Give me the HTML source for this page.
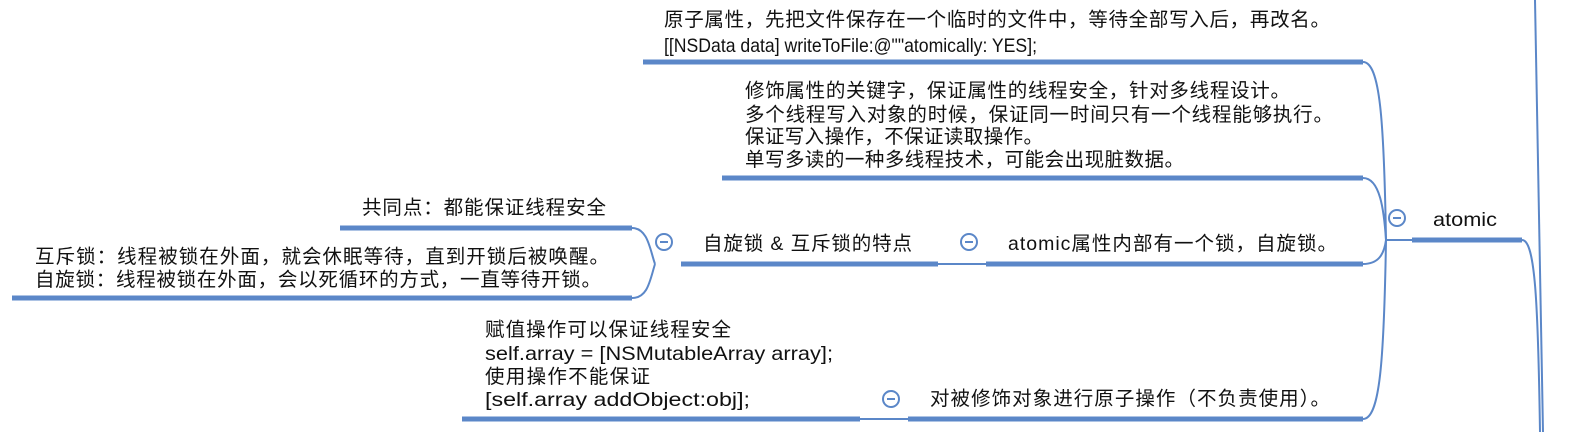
<!DOCTYPE html>
<html><head><meta charset="utf-8"><style>
html,body{margin:0;padding:0;background:#fff;width:1570px;height:432px;overflow:hidden}
svg text{font-family:"Liberation Sans","Noto Sans CJK SC",sans-serif;font-size:19.5px;fill:#111}
</style></head><body>
<svg width="1570" height="432" viewBox="0 0 1570 432" xmlns="http://www.w3.org/2000/svg">
<g stroke="#5b87c8" fill="none">
<g stroke-width="5">
<line x1="643" y1="62" x2="1363" y2="62"/>
<line x1="722" y1="178" x2="1363" y2="178"/>
<line x1="1412" y1="240" x2="1522" y2="240"/>
<line x1="986" y1="264" x2="1363" y2="264"/>
<line x1="908" y1="419" x2="1363" y2="419"/>
<line x1="681" y1="264" x2="938" y2="264"/>
<line x1="340" y1="228" x2="632" y2="228"/>
<line x1="12" y1="298" x2="632" y2="298"/>
<line x1="462" y1="419" x2="860" y2="419"/>
</g>
<g stroke-width="2">
<line x1="1386" y1="240" x2="1412" y2="240"/>
<path d="M1363 62 C1380 62 1384 120 1386 240"/>
<path d="M1363 178 C1380 178 1384 210 1386 240"/>
<path d="M1363 264 C1378 264 1384 255 1386 240"/>
<path d="M1363 419 C1380 419 1384 360 1386 240"/>
<line x1="938" y1="264" x2="986" y2="264"/>
<path d="M632 228 C648 228 650 250 655 264"/>
<path d="M632 298 C648 298 650 280 655 264"/>
<line x1="860" y1="419" x2="908" y2="419"/>
<path d="M1535 0 L1543 432"/>
<path d="M1522 240 C1535 240 1538 300 1540 432"/>
<circle cx="1397" cy="218" r="8"/>
<circle cx="969" cy="242" r="8"/>
<circle cx="664" cy="242" r="8"/>
<circle cx="891" cy="399" r="8"/>
<line x1="1393" y1="218" x2="1401" y2="218"/>
<line x1="965" y1="242" x2="973" y2="242"/>
<line x1="660" y1="242" x2="668" y2="242"/>
<line x1="887" y1="399" x2="895" y2="399"/>
</g>
</g>
<text x="664" y="26" textLength="666" lengthAdjust="spacing">原子属性，先把文件保存在一个临时的文件中，等待全部写入后，再改名。</text>
<text x="664" y="52" textLength="373" lengthAdjust="spacingAndGlyphs">[[NSData data] writeToFile:@""atomically: YES];</text>
<text x="745" y="97" textLength="545" lengthAdjust="spacing">修饰属性的关键字，保证属性的线程安全，针对多线程设计。</text>
<text x="745" y="121" textLength="588" lengthAdjust="spacing">多个线程写入对象的时候，保证同一时间只有一个线程能够执行。</text>
<text x="745" y="143" textLength="298" lengthAdjust="spacing">保证写入操作，不保证读取操作。</text>
<text x="745" y="166" textLength="439" lengthAdjust="spacing">单写多读的一种多线程技术，可能会出现脏数据。</text>
<text x="1433" y="226" textLength="64" lengthAdjust="spacingAndGlyphs">atomic</text>
<text x="1008" y="250" textLength="329" lengthAdjust="spacing">atomic属性内部有一个锁，自旋锁。</text>
<text x="703" y="250" textLength="209" lengthAdjust="spacing">自旋锁 &amp; 互斥锁的特点</text>
<text x="362" y="214" textLength="244" lengthAdjust="spacing">共同点：都能保证线程安全</text>
<text x="35" y="263" textLength="574" lengthAdjust="spacing">互斥锁：线程被锁在外面，就会休眠等待，直到开锁后被唤醒。</text>
<text x="35" y="286" textLength="566" lengthAdjust="spacing">自旋锁：线程被锁在外面，会以死循环的方式，一直等待开锁。</text>
<text x="485" y="336" textLength="246" lengthAdjust="spacing">赋值操作可以保证线程安全</text>
<text x="485" y="360" textLength="348" lengthAdjust="spacingAndGlyphs">self.array = [NSMutableArray array];</text>
<text x="485" y="383" textLength="165" lengthAdjust="spacing">使用操作不能保证</text>
<text x="485" y="406" textLength="265" lengthAdjust="spacingAndGlyphs">[self.array addObject:obj];</text>
<text x="930" y="405" textLength="400" lengthAdjust="spacing">对被修饰对象进行原子操作（不负责使用）。</text>
</svg>
</body></html>
